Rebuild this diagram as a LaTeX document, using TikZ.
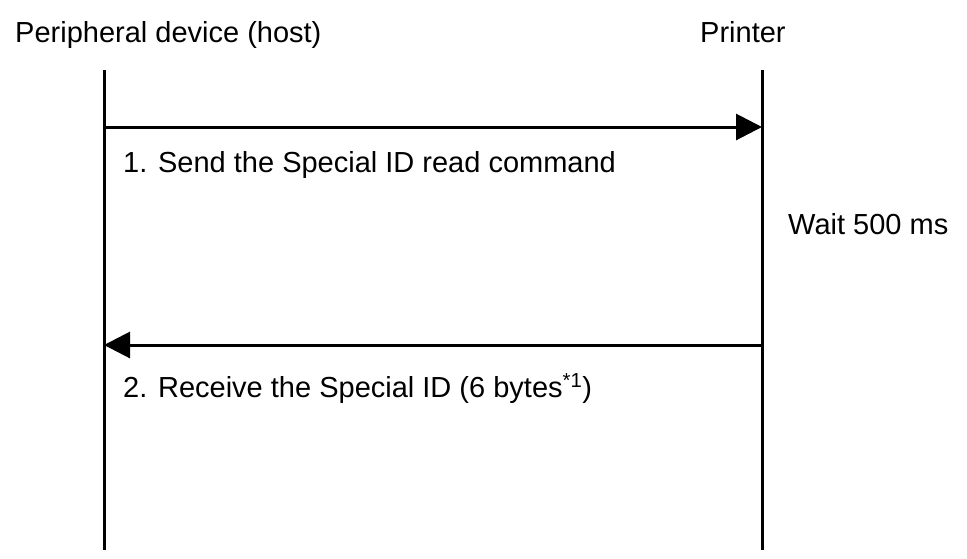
\documentclass[tikz,border=0pt]{standalone}
\usepackage{fontspec}
\setmainfont{Liberation Sans}
\usetikzlibrary{arrows.meta}
\begin{document}
\begin{tikzpicture}[x=1pt,y=-1pt,
  lbl/.style={font=\fontsize{29}{34}\selectfont, inner sep=0pt, anchor=base west},
  life/.style={line width=3pt},
  msg/.style={line width=3pt,-{Triangle[length=26pt,width=26pt]}}]
\useasboundingbox (0,0) rectangle (967,558);
\node[lbl] (host) at (15,42) {Peripheral device (host)};
\node[lbl] (prn) at (700,42) {Printer};
\coordinate (ht) at (104,70); \coordinate (hb) at (104,550);
\coordinate (pt) at (762,70); \coordinate (pb) at (762,550);
\draw[life] (ht) -- (hb);
\draw[life] (pt) -- (pb);
\coordinate (a1s) at (104,127); \coordinate (a1e) at (762,127);
\coordinate (a2s) at (762,345); \coordinate (a2e) at (104,345);
\draw[msg] (a1s) -- (a1e);
\draw[msg] (a2s) -- (a2e);
\node[lbl] (m1) at (123,172) {1. Send the Special ID read command};
\node[lbl] (w) at (788,234) {Wait 500 ms};
\node[lbl] (m2) at (123,397) {2. Receive the Special ID (6 bytes\textsuperscript{*1})};
\end{tikzpicture}
\end{document}
